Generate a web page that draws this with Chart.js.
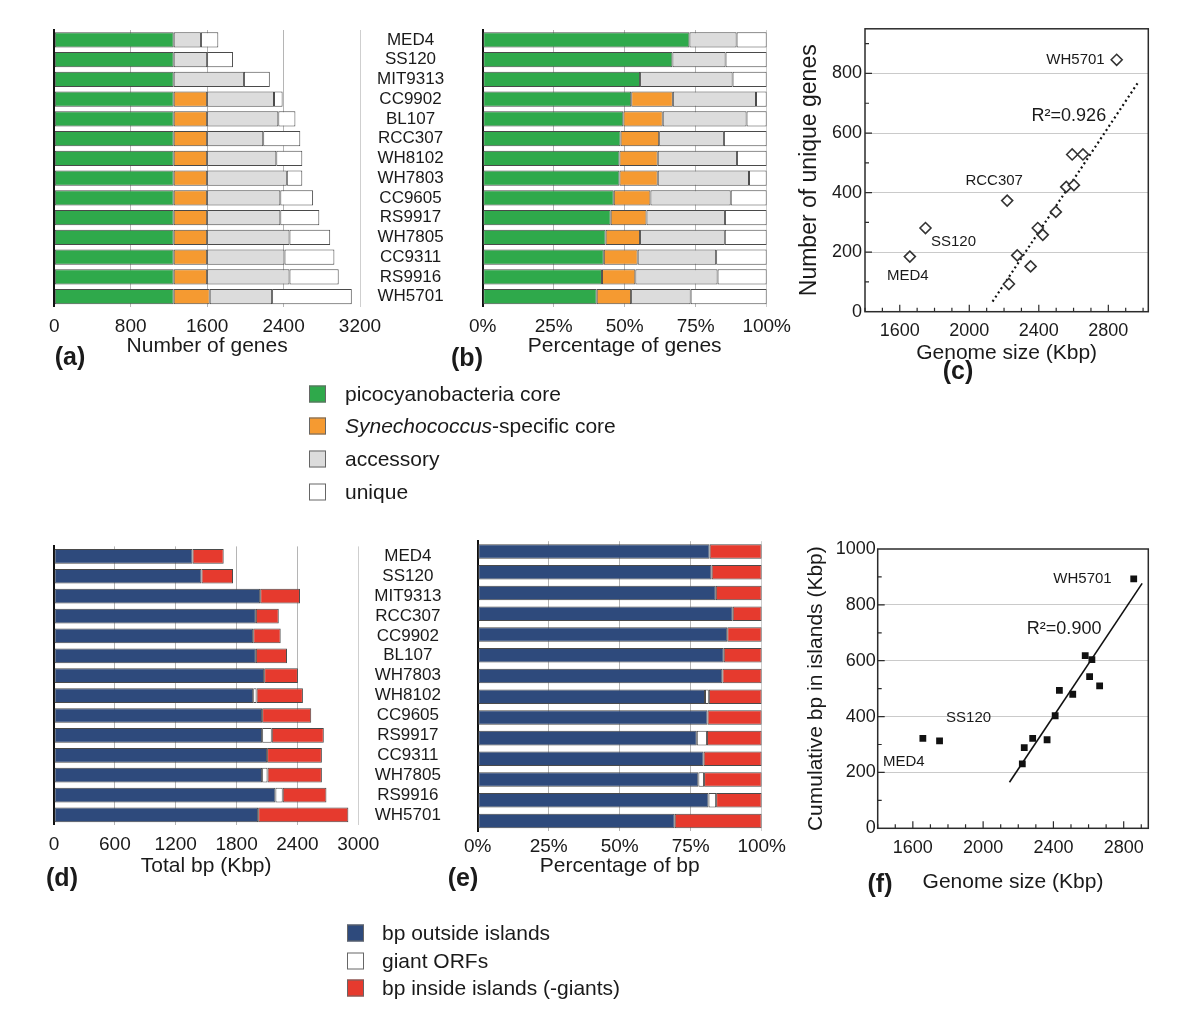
<!DOCTYPE html>
<html>
<head>
<meta charset="utf-8">
<script src="https://cdn.jsdelivr.net/npm/chart.js@4.4.0/dist/chart.umd.min.js"></script>
<style>
  body { margin: 0; background: #fff; font-family: "Liberation Sans", Arial, sans-serif; color: #1a1a1a; }
  #page { position: relative; width: 1200px; height: 1033px; overflow: hidden; }
  .box { position: absolute; }
  .tag { position: absolute; font-weight: bold; font-size: 25px; transform: translate(-50%, -50%); }
  .key { position: absolute; font-size: 21px; white-space: nowrap; transform: translateY(-50%); }
  .sw { position: absolute; width: 17px; height: 17px; box-sizing: border-box; border: 1px solid #666; transform: translateY(-50%); }
</style>
</head>
<body>
<div id="page">
  <div class="box" style="left:40px;top:20px;width:420px;height:355px"><canvas id="genesCount"></canvas></div>
  <div class="box" style="left:460px;top:20px;width:340px;height:355px"><canvas id="genesPct"></canvas></div>
  <div class="box" style="left:790px;top:15px;width:400px;height:360px"><canvas id="uniqueScatter"></canvas></div>
  <div class="box" style="left:40px;top:535px;width:420px;height:355px"><canvas id="bpCount"></canvas></div>
  <div class="box" style="left:460px;top:535px;width:340px;height:355px"><canvas id="bpPct"></canvas></div>
  <div class="box" style="left:790px;top:535px;width:400px;height:370px"><canvas id="islandScatter"></canvas></div>

  <div class="tag" style="left:70px;top:356px">(a)</div>
  <div class="tag" style="left:467px;top:357px">(b)</div>
  <div class="tag" style="left:958px;top:370px">(c)</div>
  <div class="tag" style="left:62px;top:877px">(d)</div>
  <div class="tag" style="left:463px;top:877px">(e)</div>
  <div class="tag" style="left:880px;top:883px">(f)</div>
  <div id="legends"></div>
</div>
<script>
// top row strains (panels a, b)
const strainsTop = ['MED4', 'SS120', 'MIT9313', 'CC9902', 'BL107', 'RCC307', 'WH8102',
  'WH7803', 'CC9605', 'RS9917', 'WH7805', 'CC9311', 'RS9916', 'WH5701'];
const picoCore = [1250, 1250, 1250, 1250, 1250, 1250, 1250, 1250, 1250, 1250, 1250, 1250, 1250, 1250];
const synCore = [0, 0, 0, 350, 350, 350, 350, 350, 350, 350, 350, 350, 350, 377];
const accessory = [285, 350, 735, 700, 745, 587, 724, 834, 766, 766, 862, 810, 862, 653];
const unique = [182, 271, 271, 90, 179, 388, 272, 162, 343, 408, 426, 522, 515, 834];

// bottom row strains (panels d, e)
const strainsBottom = ['MED4', 'SS120', 'MIT9313', 'RCC307', 'CC9902', 'BL107', 'WH7803',
  'WH8102', 'CC9605', 'RS9917', 'CC9311', 'WH7805', 'RS9916', 'WH5701'];
const bpOutside = [1366, 1454, 2033, 1990, 1964, 1990, 2072, 1964, 2052, 2052, 2101, 2052, 2183, 2013];
const giantOrfs = [0, 0, 0, 0, 0, 0, 0, 33, 0, 95, 0, 53, 72, 0];
const bpInside = [307, 311, 392, 226, 271, 307, 333, 457, 484, 513, 540, 536, 431, 889];

// panel c
const namesC = ['MED4', 'SS120', 'RCC307', 'CC9902', 'BL107', 'WH7803', 'MIT9313',
  'WH8102', 'CC9605', 'RS9917', 'WH7805', 'CC9311', 'RS9916', 'WH5701'];
const genomeSizeC = [1658, 1748, 2218, 2228, 2276, 2353, 2394, 2423, 2498, 2558, 2602, 2592, 2654, 2848];
const uniqueGenesC = [185, 281, 373, 93, 189, 152, 281, 258, 335, 419, 425, 528, 528, 846];
const fitC = [{ x: 2134, y: 34 }, { x: 2968, y: 767 }];

// panel f
const namesF = ['MED4', 'SS120', 'CC9902', 'RCC307', 'BL107', 'WH7803', 'MIT9313',
  'WH8102', 'CC9605', 'RS9917', 'CC9311', 'WH7805', 'RS9916', 'WH5701'];
const genomeSizeF = [1657, 1752, 2223, 2234, 2282, 2364, 2410, 2434, 2510, 2581, 2606, 2619, 2663, 2857];
const islandBpF = [322, 313, 231, 289, 322, 317, 403, 494, 480, 618, 543, 604, 510, 893];
const fitF = [{ x: 2150, y: 165 }, { x: 2905, y: 877 }];

// tick labels
const ticksGenes = [0, 800, 1600, 2400, 3200];
const ticksBp = [0, 600, 1200, 1800, 2400, 3000];
const ticksPct = [0, 25, 50, 75, 100];
const ticksGenome = [1600, 2000, 2400, 2800];
const ticksUnique = [0, 200, 400, 600, 800];
const ticksIsland = [0, 200, 400, 600, 800, 1000];

const GREEN = '#2fa94b', ORANGE = '#f59a31', LIGHT = '#dcdcdc', WHITE = '#ffffff';
const NAVY = '#2e4a7c', RED = '#e63a2e';
const INK = '#1a1a1a';

Chart.defaults.font.family = '"Liberation Sans", Arial, sans-serif';
Chart.defaults.color = INK;

function shares(series) {
  const totals = series[0].map((_, i) => series.reduce((s, a) => s + a[i], 0));
  return series.map(a => a.map((v, i) => v / totals[i] * 100));
}

function fixWidth(w) {
  return s => { s.width = w; s.paddingTop = 0; s.paddingBottom = 0; };
}

function stackedBars(id, labels, sets, o) {
  const scales = {
    x: {
      stacked: true, min: 0, max: o.max,
      afterBuildTicks: s => { s.ticks = o.ticks.map(v => ({ value: v })); },
      grid: { color: c => c.tick.value === 0 ? 'rgba(0,0,0,0)' : (c.tick.value === o.max ? '#cfcfcf' : '#b5b5b5'), drawTicks: false },
      border: { display: false },
      ticks: { font: { size: 19 }, padding: o.tickPad, callback: o.fmt || (v => String(v)) },
      title: { display: true, text: o.title, font: { size: 21 }, padding: { top: 0, bottom: o.titlePad } },
      afterFit: s => { s.height = o.xh; }
    },
    y: {
      stacked: true, offset: true,
      grid: { display: false, drawTicks: false },
      ticks: { display: false },
      border: { color: '#111', width: 2 },
      afterFit: fixWidth(0)
    }
  };
  if (o.names) {
    scales.y2 = {
      type: 'category', position: 'right', offset: true,
      grid: { display: false, drawTicks: false },
      border: { display: false },
      ticks: { font: { size: 17 }, crossAlign: 'center', padding: o.namePad, autoSkip: false },
      afterFit: fixWidth(o.nameW)
    };
  }
  return new Chart(document.getElementById(id), {
    type: 'bar',
    data: {
      labels,
      datasets: sets.map(s => ({
        label: s.label, data: s.data, backgroundColor: s.color,
        borderColor: '#4a4a4a', borderWidth: 1, borderSkipped: false,
        barPercentage: o.barPct, categoryPercentage: 1, yAxisID: 'y'
      }))
    },
    options: {
      indexAxis: 'y', responsive: true, maintainAspectRatio: false, animation: false,
      layout: { padding: o.pad },
      plugins: { legend: { display: false }, tooltip: { enabled: false } },
      scales
    }
  });
}

// frame, inner tick marks and text notes on the scatter panels
const scatterNotes = {
  id: 'scatterNotes',
  afterDatasetsDraw(chart, args, opts) {
    const { ctx, chartArea: a, scales: { x, y } } = chart;
    ctx.save();
    ctx.strokeStyle = '#2b2b2b';
    ctx.lineWidth = 1.5;
    ctx.strokeRect(a.left, a.top, a.right - a.left, a.bottom - a.top);
    ctx.lineWidth = 1.2;
    ctx.beginPath();
    for (let v = Math.ceil(x.min / 100) * 100; v < x.max; v += 100) {
      const px = x.getPixelForValue(v), len = v % opts.xMajor === 0 ? 7 : 4;
      ctx.moveTo(px, a.bottom); ctx.lineTo(px, a.bottom - len);
    }
    for (let v = 100; v < y.max; v += 100) {
      const py = y.getPixelForValue(v), len = v % opts.yMajor === 0 ? 7 : 4;
      ctx.moveTo(a.left, py); ctx.lineTo(a.left + len, py);
    }
    ctx.stroke();

    ctx.fillStyle = INK;
    ctx.textBaseline = 'middle';
    ctx.font = '15px "Liberation Sans", Arial, sans-serif';
    const pts = chart.getDatasetMeta(0).data;
    opts.labels.forEach(l => {
      const p = pts[opts.names.indexOf(l.name)];
      ctx.textAlign = l.align || 'center';
      ctx.fillText(l.name, p.x + l.dx, p.y + l.dy);
    });
    ctx.font = '18px "Liberation Sans", Arial, sans-serif';
    ctx.textAlign = 'center';
    ctx.fillText(opts.r2.text, x.getPixelForValue(opts.r2.x), y.getPixelForValue(opts.r2.y));
    ctx.restore();
  }
};

function scatterPanel(id, xs, ys, fit, o) {
  return new Chart(document.getElementById(id), {
    type: 'scatter',
    data: {
      datasets: [
        {
          data: xs.map((v, i) => ({ x: v, y: ys[i] })),
          pointStyle: o.marker, radius: o.radius, borderColor: o.markerLine,
          borderWidth: o.markerWidth, backgroundColor: o.markerFill
        },
        {
          type: 'line', data: fit, borderColor: '#111', borderWidth: o.fitWidth,
          borderDash: o.fitDash, pointRadius: 0, fill: false
        }
      ]
    },
    options: {
      responsive: true, maintainAspectRatio: false, animation: false,
      layout: { padding: o.pad },
      plugins: { legend: { display: false }, tooltip: { enabled: false }, scatterNotes: o.notes },
      scales: {
        x: {
          type: 'linear', min: o.xMin, max: o.xMax,
          afterBuildTicks: s => { s.ticks = ticksGenome.map(v => ({ value: v })); },
          grid: { display: false, drawTicks: false },
          border: { display: false },
          ticks: { font: { size: 18 }, padding: o.xTickPad, callback: v => String(v) },
          title: { display: true, text: 'Genome size (Kbp)', font: { size: 21 }, padding: { top: 0, bottom: o.xTitlePad } },
          afterFit: s => { s.height = o.xh; }
        },
        y: {
          type: 'linear', min: 0, max: o.yMax,
          afterBuildTicks: s => { s.ticks = o.yTicks.map(v => ({ value: v })); },
          grid: { color: c => (c.tick.value === 0 || c.tick.value === o.yMax) ? 'rgba(0,0,0,0)' : '#cacaca', drawTicks: false },
          border: { display: false },
          ticks: { font: { size: 18 }, padding: o.yTickPad, callback: v => String(v) },
          title: { display: true, text: o.yTitle, font: { size: o.yTitleSize }, padding: { top: o.yTitlePad, bottom: 0 } },
          afterFit: s => { s.width = o.yw; }
        }
      }
    },
    plugins: [scatterNotes]
  });
}

stackedBars('genesCount', strainsTop, [
  { label: 'picocyanobacteria core', data: picoCore, color: GREEN },
  { label: 'Synechococcus-specific core', data: synCore, color: ORANGE },
  { label: 'accessory', data: accessory, color: LIGHT },
  { label: 'unique', data: unique, color: WHITE }
], { max: 3200, ticks: ticksGenes, title: 'Number of genes', tickPad: 9, titlePad: 16, xh: 68.5,
     pad: { left: 12, top: 10, right: 0, bottom: 0 }, barPct: 0.76, names: true, namePad: 17, nameW: 100 });

const genePct = shares([picoCore, synCore, accessory, unique]);
stackedBars('genesPct', strainsTop, [
  { label: 'picocyanobacteria core', data: genePct[0], color: GREEN },
  { label: 'Synechococcus-specific core', data: genePct[1], color: ORANGE },
  { label: 'accessory', data: genePct[2], color: LIGHT },
  { label: 'unique', data: genePct[3], color: WHITE }
], { max: 100, ticks: ticksPct, fmt: v => v + '%', title: 'Percentage of genes', tickPad: 9, titlePad: 16, xh: 68.5,
     pad: { left: 9.3, top: 10, right: 29, bottom: 0 }, barPct: 0.76 });

stackedBars('bpCount', strainsBottom, [
  { label: 'bp outside islands', data: bpOutside, color: NAVY },
  { label: 'giant ORFs', data: giantOrfs, color: WHITE },
  { label: 'bp inside islands (-giants)', data: bpInside, color: RED }
], { max: 3000, ticks: ticksBp, title: 'Total bp (Kbp)', tickPad: 8.7, titlePad: 10.7, xh: 65.1,
     pad: { left: 12.3, top: 11.4, right: 0, bottom: 0 }, barPct: 0.74, names: true, namePad: 16, nameW: 101.7 });

const bpPct = shares([bpOutside, giantOrfs, bpInside]);
stackedBars('bpPct', strainsBottom, [
  { label: 'bp outside islands', data: bpPct[0], color: NAVY },
  { label: 'giant ORFs', data: bpPct[1], color: WHITE },
  { label: 'bp inside islands (-giants)', data: bpPct[2], color: RED }
], { max: 100, ticks: ticksPct, fmt: v => v + '%', title: 'Percentage of bp', tickPad: 4, titlePad: 10.7, xh: 58.6,
     pad: { left: 5.3, top: 6.2, right: 38.3, bottom: 0 }, barPct: 0.7 });

scatterPanel('uniqueScatter', genomeSizeC, uniqueGenesC, fitC, {
  marker: 'rectRot', radius: 5.5, markerLine: '#333', markerWidth: 1.6, markerFill: '#fff',
  fitWidth: 2.2, fitDash: [2, 3],
  xMin: 1400, xMax: 3030, yMax: 950, yTicks: ticksUnique,
  yTitle: 'Number of unique genes', yTitleSize: 23, yTitlePad: 6, yw: 75, yTickPad: 3,
  xTickPad: 9, xTitlePad: 9, xh: 63.3,
  pad: { left: 0, top: 13.3, right: 41.7, bottom: 0 },
  notes: {
    names: namesC, xMajor: 400, yMajor: 200,
    labels: [
      { name: 'WH5701', dx: -12, dy: 0, align: 'right' },
      { name: 'RCC307', dx: -13, dy: -20 },
      { name: 'SS120', dx: 28, dy: 14 },
      { name: 'MED4', dx: -2, dy: 19 }
    ],
    r2: { text: 'R²=0.926', x: 2573, y: 657 }
  }
});

scatterPanel('islandScatter', genomeSizeF, islandBpF, fitF, {
  marker: 'rect', radius: 4.8, markerLine: '#111', markerWidth: 0, markerFill: '#111',
  fitWidth: 1.6, fitDash: [],
  xMin: 1400, xMax: 2940, yMax: 1000, yTicks: ticksIsland,
  yTitle: 'Cumulative bp in islands (Kbp)', yTitleSize: 21, yTitlePad: 14, yw: 87.7, yTickPad: 2,
  xTickPad: 9, xTitlePad: 10.4, xh: 76.7,
  pad: { left: 0, top: 14, right: 41.7, bottom: 0 },
  notes: {
    names: namesF, xMajor: 400, yMajor: 200,
    labels: [
      { name: 'WH5701', dx: -22, dy: 0, align: 'right' },
      { name: 'SS120', dx: 29, dy: -23 },
      { name: 'MED4', dx: -19, dy: 23 }
    ],
    r2: { text: 'R²=0.900', x: 2461, y: 714 }
  }
});

// legends
const geneKeys = [
  { html: 'picocyanobacteria core', color: GREEN },
  { html: '<i>Synechococcus</i>-specific core', color: ORANGE },
  { html: 'accessory', color: LIGHT },
  { html: 'unique', color: WHITE }
];
const bpKeys = [
  { html: 'bp outside islands', color: NAVY },
  { html: 'giant ORFs', color: WHITE },
  { html: 'bp inside islands (-giants)', color: RED }
];
function drawKeys(keys, left, textLeft, top, step) {
  const host = document.getElementById('legends');
  keys.forEach((k, i) => {
    const y = top + i * step;
    host.insertAdjacentHTML('beforeend',
      `<div class="sw" style="left:${left}px;top:${y}px;background:${k.color}"></div>` +
      `<div class="key" style="left:${textLeft}px;top:${y}px">${k.html}</div>`);
  });
}
drawKeys(geneKeys, 309, 345, 393.5, 32.8);
drawKeys(bpKeys, 347, 382, 933, 27.5);
</script>
</body>
</html>
